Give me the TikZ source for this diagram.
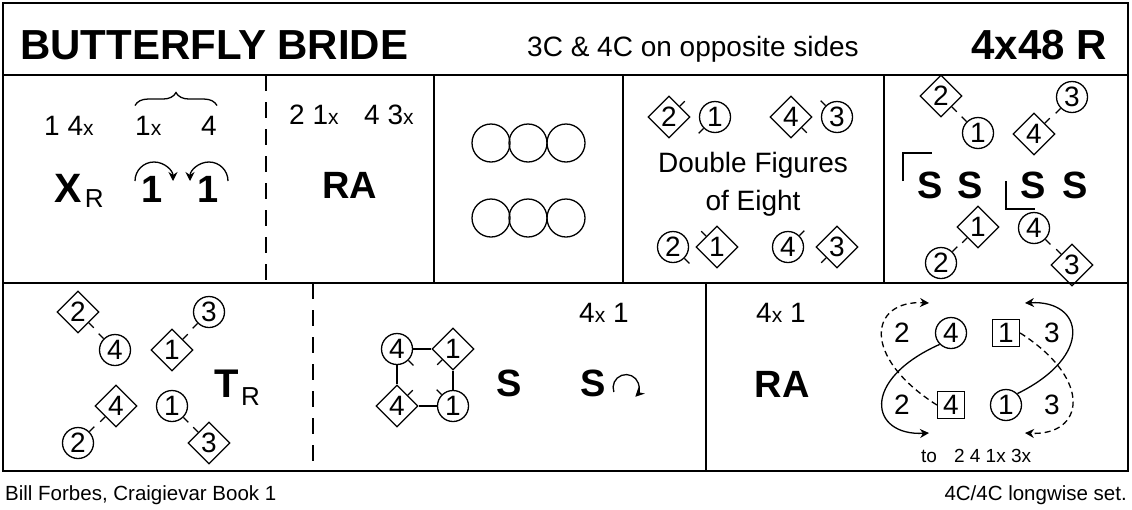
\documentclass[tikz,border=0pt]{standalone}
\usepackage{fontspec}
\setmainfont{Liberation Sans}
\usetikzlibrary{arrows.meta,positioning,calc,shapes.geometric,decorations.pathreplacing}
\newcommand{\sx}{{\fontsize{21}{21}\selectfont x}}
\newcommand{\facing}[2]{\draw[nose] (#1.#2) -- ++(#2:7pt);}
\tikzset{
  frame/.style={line width=2pt},
  dashframe/.style={line width=1.6pt, dash pattern=on 16pt off 11pt},
  lady/.style={circle, draw, line width=1.3pt, minimum size=31pt, inner sep=0pt, font=\fontsize{28}{28}\selectfont},
  man/.style={diamond, draw, line width=1.3pt, minimum size=42pt, inner sep=0pt, font=\fontsize{28}{28}\selectfont},
  mansq/.style={rectangle, draw, line width=1.3pt, minimum size=27pt, inner sep=0pt, font=\fontsize{28}{28}\selectfont},
  ring/.style={circle, draw, line width=1.3pt, minimum size=38pt, inner sep=0pt},
  nose/.style={line width=1.3pt},
  txt/.style={font=\fontsize{28}{28}\selectfont, inner sep=0pt},
  foot/.style={font=\fontsize{20.5}{20.5}\selectfont, inner sep=0pt},
  head/.style={font=\fontsize{42}{42}\selectfont\bfseries, inner sep=0pt},
  bigb/.style={font=\fontsize{38}{38}\selectfont\bfseries, inner sep=0pt},
  subr/.style={font=\fontsize{26}{26}\selectfont, inner sep=0pt},
  arr/.style={-{Stealth[length=9pt,width=9pt]}, line width=1.3pt},
  track/.style={line width=1.3pt},
  dtrack/.style={line width=1.3pt, dash pattern=on 6pt off 4pt},
  hold/.style={line width=2.5pt},
}
\begin{document}
\begin{tikzpicture}[x=1pt,y=-1pt]
\useasboundingbox (0,0) rectangle (1132,509);
% frames
\draw[frame] (3,3) rectangle (1128,75);
\draw[frame] (3,75) rectangle (1128,471);
\draw[frame] (3,283) -- (1128,283);
\draw[dashframe] (266,75) -- (266,283);
\draw[frame] (434,75) -- (434,283);
\draw[frame] (623,75) -- (623,283);
\draw[frame] (884,75) -- (884,283);
\draw[dashframe] (313,283) -- (313,471);
\draw[frame] (706,283) -- (706,471);

% title line
\node[head, anchor=base west] (title) at (20,59) {BUTTERFLY BRIDE};
\node[txt, anchor=base] (sets) at (693,56) {3C \& 4C on opposite sides};
\node[head, anchor=base east] (bars) at (1107,59) {4x48 R};

% bars 1-8: cross and cast
\node[txt, anchor=base west] (c1a) at (44,135) {1 4\sx};
\node[txt, anchor=base west] (c1b) at (135,135) {1\sx};
\node[txt, anchor=base west] (c1c) at (201,135) {4};
\draw[line width=1.3pt, decorate, decoration={brace, amplitude=13pt}]
  ([yshift=10pt]c1b.north west) -- ([yshift=10pt]c1c.north east);
\node[bigb, font=\fontsize{41}{41}\selectfont\bfseries, anchor=base west] (xr) at (54,202) {X};
\node[subr, anchor=base west] (xrr) at ([xshift=3pt,yshift=-5pt]xr.base east) {R};
\node[bigb, anchor=base] (one1) at (152,202) {1};
\node[bigb, anchor=base] (one2) at (208,202) {1};
\draw[arr] ([xshift=-17pt,yshift=21pt]one1.base) arc[start angle=180, end angle=0, radius=19pt];
\draw[arr] ([xshift=20pt,yshift=21pt]one2.base) arc[start angle=0, end angle=180, radius=19pt];

% right hands across
\node[txt, anchor=base west] (c2a) at (289,124) {2 1\sx};
\node[txt, anchor=base west] (c2b) at (364,124) {4 3\sx};
\node[bigb] (ra1) at (350,185) {RA};

% circles
\foreach \i/\x in {1/491,2/528,3/566}{
  \node[ring] (ringa\i) at (\x,143) {};
  \node[ring] (ringb\i) at (\x,218) {};
}

% double figures of eight
\node[man] (d2) at (669,117) {2}; \facing{d2}{45}
\node[lady] (d1) at (715,117) {1}; \facing{d1}{225}
\node[man] (d4) at (791,117) {4}; \facing{d4}{315}
\node[lady] (d3) at (837,117) {3}; \facing{d3}{135}
\node[txt, anchor=base] (dfig1) at (753,172) {Double Figures};
\node[txt, anchor=base] (dfig2) at (753,210) {of Eight};
\node[lady] (e2) at (673,247) {2}; \facing{e2}{315}
\node[man] (e1) at (717,247) {1}; \facing{e1}{135}
\node[lady] (e4) at (788,247) {4}; \facing{e4}{45}
\node[man] (e3) at (837,247) {3}; \facing{e3}{225}

% set twice
\node[man] (f2) at (941,96) {2}; \facing{f2}{315}
\node[lady] (f1) at (978,133) {1}; \facing{f1}{135}
\node[lady] (f3) at (1072,97) {3}; \facing{f3}{225}
\node[man] (f4) at (1034,134) {4}; \facing{f4}{45}
\node[bigb] (s1) at (930,185) {S};
\node[bigb] (s2) at (970,185) {S};
\node[bigb] (s3) at (1033,185) {S};
\node[bigb] (s4) at (1075,185) {S};
\draw[line width=1.3pt] (903,181) -- (903,153) -- (932,153);
\draw[line width=1.3pt] (1006,181) -- (1006,209) -- (1035,209);
\node[man] (g1) at (978,227) {1}; \facing{g1}{225}
\node[lady] (g2) at (941,263) {2}; \facing{g2}{45}
\node[lady] (g4) at (1034,228) {4}; \facing{g4}{315}
\node[man] (g3) at (1072,265) {3}; \facing{g3}{135}

% turn right
\node[man] (h2) at (78,312) {2}; \facing{h2}{315}
\node[lady] (h4) at (115,350) {4}; \facing{h4}{135}
\node[lady] (h3) at (209,312) {3}; \facing{h3}{225}
\node[man] (h1) at (172,350) {1}; \facing{h1}{45}
\node[man] (i4) at (116,406) {4}; \facing{i4}{225}
\node[lady] (i2) at (78,443) {2}; \facing{i2}{45}
\node[lady] (i1) at (172,406) {1}; \facing{i1}{315}
\node[man] (i3) at (209,443) {3}; \facing{i3}{135}
\node[bigb, font=\fontsize{40}{40}\selectfont\bfseries, anchor=base west] (tr) at (214,397) {T};
\node[subr, anchor=base west] (trr) at ([xshift=2pt,yshift=-8pt]tr.base east) {R};

% set and turn
\node[txt, anchor=base west] (c7a) at (579,322) {4\sx{} 1};
\node[lady] (j4) at (397,349) {4}; \facing{j4}{315}
\node[man] (j1) at (453,349) {1}; \facing{j1}{225}
\node[man] (k4) at (397,406) {4}; \facing{k4}{45}
\node[lady] (k1) at (453,406) {1}; \facing{k1}{135}
\draw[hold] (j4) -- (j1);
\draw[hold] (j1) -- (k1);
\draw[hold] (k1) -- (k4);
\draw[hold] (k4) -- (j4);
\node[bigb] (s5) at (509,383) {S};
\node[bigb] (s6) at (593,383) {S};
\draw[arr] ([xshift=8pt,yshift=-9pt]s6.east) arc[start angle=200, end angle=-45, radius=13pt];

% right hands across and crossing
\node[txt, anchor=base west] (c8a) at (756,322) {4\sx{} 1};
\node[bigb] (ra2) at (782,384) {RA};
\node[txt] (l2) at (902,333) {2};
\node[lady] (l4) at (951,333) {4};
\node[mansq] (l1) at (1006,333) {1};
\node[txt] (l3) at (1052,333) {3};
\node[txt] (m2) at (902,405) {2};
\node[mansq] (m4) at (951,405) {4};
\node[lady] (m1) at (1006,405) {1};
\node[txt] (m3) at (1052,405) {3};
\coordinate (endsw) at (929,433);
\coordinate (endnw) at (929,303);
\coordinate (endne) at (1025,303);
\coordinate (endse) at (1025,433);
\draw[track, -{Stealth[length=9pt,width=9pt]}] (l4.225) .. controls (860,380) and (870,436) .. (endsw);
\draw[track, -{Stealth[length=9pt,width=9pt]}] (m1.45) .. controls (1094,356) and (1084,300) .. (endne);
\draw[dtrack, -{Stealth[length=9pt,width=9pt]}] (m4.west) .. controls (860,356) and (870,300) .. (endnw);
\draw[dtrack, -{Stealth[length=9pt,width=9pt]}] (l1.east) .. controls (1094,380) and (1084,436) .. (endse);
\node[foot, font=\fontsize{19}{19}\selectfont, anchor=base west] (tonote) at (921,462) {to\hspace{17pt}2 4 1x 3x};

% footer
\node[foot, anchor=base west] (author) at (5,500) {Bill Forbes, Craigievar Book 1};
\node[foot, anchor=base east] (settype) at (1127,500) {4C/4C longwise set.};
\end{tikzpicture}
\end{document}
